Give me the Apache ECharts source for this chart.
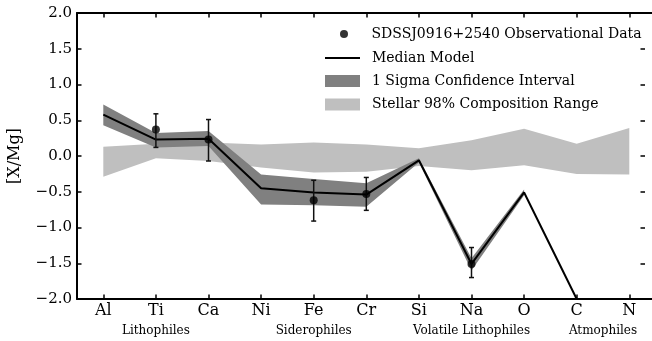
<!DOCTYPE html>
<html>
<head>
<meta charset="utf-8">
<script src="https://cdn.jsdelivr.net/npm/echarts@6/dist/echarts.min.js"></script>
<style>
html,body{margin:0;padding:0;background:#fff;}
#chart{width:652px;height:341px;}
</style>
</head>
<body>
<div id="chart"></div>
<script>
// ---- data ----
var categories = ['Al','Ti','Ca','Ni','Fe','Cr','Si','Na','O','C','N'];
var medianModel = [0.58, 0.23, 0.24, -0.45, -0.51, -0.54, -0.06, -1.51, -0.51, -2.0, -2.0];
var sigmaLower  = [0.43, 0.12, 0.14, -0.68, -0.69, -0.71, -0.09, -1.60, -0.55, null, null];
var sigmaUpper  = [0.72, 0.32, 0.35, -0.26, -0.32, -0.38, -0.03, -1.43, -0.47, null, null];
var stellarLower = [-0.29, -0.03, -0.07, -0.16, -0.23, -0.22, -0.14, -0.20, -0.13, -0.25, -0.26];
var stellarUpper = [0.13, 0.17, 0.19, 0.16, 0.19, 0.16, 0.11, 0.22, 0.38, 0.17, 0.39];
var obsCategories = ['Ti','Ca','Fe','Cr','Na'];
var obsValues = [0.37, 0.23, -0.62, -0.53, -1.51];
var obsLow    = [0.12, -0.07, -0.91, -0.76, -1.70];
var obsHigh   = [0.59, 0.51, -0.34, -0.30, -1.28];
var groupNames = ['Lithophiles','Siderophiles','Volatile Lithophiles','Atmophiles'];
var groupCenters = [[1,1],[4,4],[7,7],[9,10]]; // category index span whose middle holds the group label
var yTicks = {min: -2.0, max: 2.0, step: 0.5};

var SERIF = '"DejaVu Serif", serif';
var nameObs = 'SDSSJ0916+2540 Observational Data';
var nameMed = 'Median Model';
var nameSig = '1 Sigma Confidence Interval';
var nameSte = 'Stellar 98% Composition Range';

function diff(u, l){ return u.map(function(v,i){ return (v==null||l[i]==null) ? '-' : +(v - l[i]).toFixed(4); }); }
function nz(a){ return a.map(function(v){ return v==null ? '-' : v; }); }

var chart = echarts.init(document.getElementById('chart'), null, {renderer:'canvas'});
var axisLineStyle = {color:'#000', width:2};

function legendAt(name, left, top, icon, w, h, pad){
  return {
    data:[{name:name, icon:icon}],
    left: left, top: top, orient:'vertical', padding:0,
    itemWidth:w, itemHeight:h, selectedMode:false,
    textStyle:{fontFamily:SERIF, fontSize:14, color:'#000', padding:[0,0,0,pad], lineHeight:18}
  };
}

var option = {
  animation:false,
  backgroundColor:'#fff',
  grid:{left:77, top:13, width:578.6, height:286, containLabel:false, outerBoundsMode:'none'},
  legend:[
    legendAt(nameObs, 340, 25, 'circle', 35, 8, 5),
    legendAt(nameMed, 325, 49, 'rect', 35, 2, 7),
    legendAt(nameSig, 325, 72, 'rect', 35, 12, 7),
    legendAt(nameSte, 325, 95.5, 'rect', 35, 12, 7)
  ],
  xAxis:[{
    type:'category', data:categories, boundaryGap:true, position:'bottom',
    axisLine:{show:true, onZero:false, lineStyle:axisLineStyle},
    axisTick:{show:true, inside:true, alignWithLabel:true, length:4.5, lineStyle:{color:'#000', width:1.5}},
    axisLabel:{fontFamily:SERIF, fontSize:16, color:'#000', margin:4},
    splitLine:{show:false}
  },{
    type:'category', data:categories, boundaryGap:true, position:'top',
    axisLine:{show:true, onZero:false, lineStyle:axisLineStyle},
    axisTick:{show:true, inside:true, alignWithLabel:true, length:4.5, lineStyle:{color:'#000', width:1.5}},
    axisLabel:{show:false}, splitLine:{show:false}
  }],
  yAxis:[{
    type:'value', min:yTicks.min, max:yTicks.max, interval:yTicks.step, position:'left',
    name:'[X/Mg]', nameLocation:'middle', nameGap:54, nameRotate:90,
    nameTextStyle:{fontFamily:SERIF, fontSize:16, color:'#000'},
    axisLine:{show:true, onZero:false, lineStyle:axisLineStyle},
    axisTick:{show:true, inside:true, length:4.5, lineStyle:{color:'#000', width:1.5}},
    axisLabel:{fontFamily:SERIF, fontSize:15, color:'#000', margin:5,
      formatter:function(v){ return (v<0?'\u2212':'') + Math.abs(v).toFixed(1); }},
    splitLine:{show:false}
  },{
    type:'value', min:yTicks.min, max:yTicks.max, interval:yTicks.step, position:'right', offset:-10.6,
    axisLine:{show:false, onZero:false},
    axisTick:{show:true, inside:true, length:4.5, lineStyle:{color:'#000', width:1.5}},
    axisLabel:{show:false}, splitLine:{show:false}
  }],
  series:[
    {type:'line', stack:'stellar', stackStrategy:'all', data:stellarLower, symbol:'none', silent:true,
     lineStyle:{width:0, opacity:0}, z:1},
    {name:nameSte, type:'line', stack:'stellar', stackStrategy:'all', data:diff(stellarUpper, stellarLower),
     symbol:'none', silent:true, color:'#bfbfbf',
     lineStyle:{width:0, opacity:0}, areaStyle:{color:'#bfbfbf', opacity:1}, z:1},
    {type:'line', stack:'sigma', stackStrategy:'all', data:nz(sigmaLower), symbol:'none', silent:true,
     lineStyle:{width:0, opacity:0}, z:2},
    {name:nameSig, type:'line', stack:'sigma', stackStrategy:'all', data:diff(sigmaUpper, sigmaLower),
     symbol:'none', silent:true, color:'#808080',
     lineStyle:{width:0, opacity:0}, areaStyle:{color:'#808080', opacity:1}, z:2},
    {name:nameMed, type:'line', data:medianModel, symbol:'none', silent:true, color:'#000',
     lineStyle:{color:'#000', width:2}, z:3},
    {type:'custom', silent:true, z:4,
     data: obsCategories.map(function(c,i){ return [c, obsLow[i], obsHigh[i]]; }),
     encode:{x:0, y:[1,2]},
     renderItem:function(params, api){
       var lo = api.coord([api.value(0), api.value(1)]);
       var hi = api.coord([api.value(0), api.value(2)]);
       var cap = 2.5;
       var st = {stroke:'#111', lineWidth:1.5};
       return {type:'group', children:[
         {type:'line', shape:{x1:lo[0], y1:lo[1], x2:hi[0], y2:hi[1]}, style:st},
         {type:'line', shape:{x1:lo[0]-cap, y1:lo[1], x2:lo[0]+cap, y2:lo[1]}, style:st},
         {type:'line', shape:{x1:hi[0]-cap, y1:hi[1], x2:hi[0]+cap, y2:hi[1]}, style:st}
       ]};
     }},
    {name:nameObs, type:'scatter', data: obsCategories.map(function(c,i){ return [c, obsValues[i]]; }),
     symbol:'circle', symbolSize:8, color:'#000', itemStyle:{color:'#000'}, silent:true, z:5}
  ]
};
chart.setOption(option);

// group labels positioned through the category axis scale
var graphics = groupNames.map(function(g, i){
  var a = chart.convertToPixel({xAxisIndex:0}, groupCenters[i][0]);
  var b = chart.convertToPixel({xAxisIndex:0}, groupCenters[i][1]);
  return {type:'text', x:(a+b)/2, y:331, silent:true,
    style:{text:g, fontFamily:SERIF, fontSize:12, fill:'#000', align:'center', verticalAlign:'middle'}};
});
chart.setOption({graphic:graphics});
</script>
</body>
</html>
